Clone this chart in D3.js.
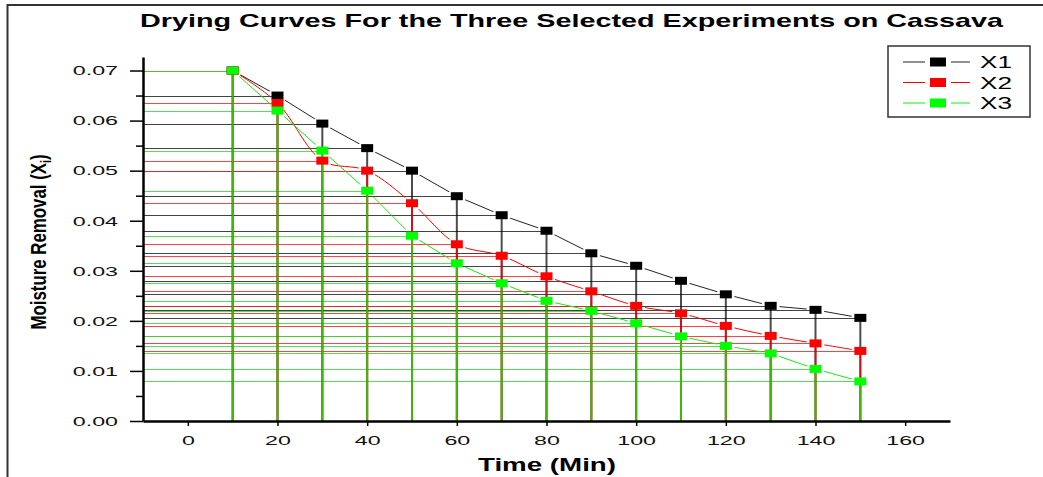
<!DOCTYPE html>
<html>
<head>
<meta charset="utf-8">
<script src="https://cdn.jsdelivr.net/npm/d3@7"></script>
<style>
  body { margin: 0; background: #fff; }
  svg { display: block; font-family: "Liberation Sans", Arial, sans-serif; }
</style>
</head>
<body>
<svg id="chart" width="1043" height="477"></svg>
<script>
// data
const times = [10, 20, 30, 40, 50, 60, 70, 80, 90, 100, 110, 120, 130, 140, 150];
const x1 = [0.0700, 0.0650, 0.0594, 0.0545, 0.0500, 0.0449, 0.0411, 0.0380, 0.0335, 0.0310, 0.0280, 0.0253, 0.0230, 0.0222, 0.0206];
const x2 = [0.0700, 0.0635, 0.0520, 0.0500, 0.0435, 0.0353, 0.0330, 0.0289, 0.0259, 0.0230, 0.0215, 0.0190, 0.0170, 0.0155, 0.0140];
const x3 = [0.0700, 0.0620, 0.0540, 0.0460, 0.0370, 0.0315, 0.0275, 0.0240, 0.0220, 0.0195, 0.0169, 0.0150, 0.0135, 0.0104, 0.0079];
const seriesNames = ["X1", "X2", "X3"];
const xTicks = [0, 20, 40, 60, 80, 100, 120, 140, 160];
const yTicks = [0, 0.01, 0.02, 0.03, 0.04, 0.05, 0.06, 0.07];
const yMinorTicks = [0.005, 0.015, 0.025, 0.035, 0.045, 0.055, 0.065];

const W = 1043, H = 477;
const sx = 1.72; // reference text is stretched horizontally
const svg = d3.select('#chart');

const x = d3.scaleLinear().domain([-10, 170]).range([143, 950]);
const y = d3.scaleLinear().domain([0, 0.0727]).range([421, 57]);

const series = [
  {name: seriesNames[0], values: x1, color: '#000', line: '#222', hline: '#222', curve: d3.curveLinear},
  {name: seriesNames[1], values: x2, color: '#f00', line: '#f00', hline: '#f22', curve: d3.curveCatmullRom},
  {name: seriesNames[2], values: x3, color: '#0f0', line: '#1e1', hline: '#3d3', curve: d3.curveLinear}
];

// outer frame
svg.append('path')
  .attr('d', `M7.5,${H} V5 H${W}`)
  .attr('fill', 'none')
  .attr('stroke', '#333')
  .attr('stroke-width', 2);

// masks to make gaps in connecting lines around symbols
const defs = svg.append('defs');
series.forEach((s, i) => {
  const m = defs.append('mask')
    .attr('id', 'gap' + i)
    .attr('maskUnits', 'userSpaceOnUse')
    .attr('x', 0).attr('y', 0).attr('width', W).attr('height', H);
  m.append('rect').attr('width', W).attr('height', H).attr('fill', '#fff');
  m.selectAll('circle')
    .data(times)
    .enter().append('circle')
    .attr('cx', d => x(d))
    .attr('cy', (d, j) => y(s.values[j]))
    .attr('r', 9)
    .attr('fill', '#000');
});

// horizontal drop lines to the y axis
series.forEach(s => {
  svg.append('g')
    .selectAll('line')
    .data(times)
    .enter().append('line')
    .attr('x1', x(-10))
    .attr('x2', d => x(d))
    .attr('y1', (d, j) => Math.round(y(s.values[j])) + 0.5)
    .attr('y2', (d, j) => Math.round(y(s.values[j])) + 0.5)
    .attr('stroke', s.hline)
    .attr('stroke-opacity', 0.85)
    .attr('stroke-width', 1);
});

// vertical drop lines to the x axis
series.forEach(s => {
  svg.append('g')
    .selectAll('line')
    .data(times)
    .enter().append('line')
    .attr('x1', d => x(d))
    .attr('x2', d => x(d))
    .attr('y1', (d, j) => y(s.values[j]))
    .attr('y2', y(0))
    .attr('stroke', s.color)
    .attr('stroke-opacity', 0.7)
    .attr('stroke-width', 2);
});

// connecting lines
series.forEach((s, i) => {
  const line = d3.line()
    .x(d => x(d))
    .y((d, j) => y(s.values[j]))
    .curve(s.curve);
  svg.append('path')
    .datum(times)
    .attr('d', line)
    .attr('fill', 'none')
    .attr('stroke', s.line)
    .attr('stroke-width', 1)
    .attr('mask', `url(#gap${i})`);
});

// symbols
series.forEach(s => {
  svg.append('g')
    .selectAll('rect')
    .data(times)
    .enter().append('rect')
    .attr('x', d => x(d) - 6)
    .attr('y', (d, j) => y(s.values[j]) - 4)
    .attr('width', 12)
    .attr('height', 8)
    .attr('fill', s.color);
});

// axes
const yAxis = svg.append('g')
  .attr('transform', `translate(${x(-10)},0)`)
  .call(d3.axisLeft(y).tickValues(yTicks).tickFormat(d3.format('.2f')).tickSize(13).tickSizeOuter(0));
svg.append('g')
  .attr('transform', `translate(${x(-10)},0)`)
  .call(d3.axisLeft(y).tickValues(yMinorTicks).tickFormat('').tickSize(7).tickSizeOuter(0))
  .call(g => g.select('.domain').remove())
  .selectAll('line').attr('stroke-width', 1.5);

const xAxis = svg.append('g')
  .attr('transform', `translate(0,${y(0)})`)
  .call(d3.axisBottom(x).tickValues(xTicks).tickSize(5).tickSizeOuter(0));

[yAxis, xAxis].forEach(g => {
  g.select('.domain').attr('stroke-width', 2.5);
  g.selectAll('.tick line').attr('stroke-width', 1.5);
  g.selectAll('text')
    .attr('font-family', '"Liberation Sans", Arial, sans-serif')
    .attr('font-size', 13.5)
    .attr('fill', '#111');
});
yAxis.selectAll('text')
  .attr('x', -25 / sx)
  .attr('transform', `scale(${sx},1)`);
xAxis.selectAll('text')
  .attr('y', 14.5)
  .attr('transform', `scale(${sx},1)`);

// titles
svg.append('text')
  .attr('x', 140)
  .attr('y', 27)
  .attr('font-size', 19)
  .attr('font-weight', 'bold')
  .attr('textLength', 863)
  .attr('lengthAdjust', 'spacingAndGlyphs')
  .text('Drying Curves For the Three Selected Experiments on Cassava');

svg.append('text')
  .attr('x', 547)
  .attr('y', 471)
  .attr('text-anchor', 'middle')
  .attr('font-size', 19)
  .attr('font-weight', 'bold')
  .attr('textLength', 138)
  .attr('lengthAdjust', 'spacingAndGlyphs')
  .text('Time (Min)');

const yLabel = svg.append('text')
  .attr('transform', 'translate(46,242) scale(1.25,1) rotate(-90)')
  .attr('text-anchor', 'middle')
  .attr('font-size', 18)
  .attr('font-weight', 'bold')
  .attr('textLength', 175)
  .attr('lengthAdjust', 'spacingAndGlyphs');
yLabel.append('tspan').text('Moisture Removal (X');
yLabel.append('tspan').attr('font-size', 11).attr('dy', 4).text('i');
yLabel.append('tspan').attr('dy', -4).text(')');

// legend
const legend = svg.append('g');
legend.append('rect')
  .attr('x', 888).attr('y', 46)
  .attr('width', 142).attr('height', 71)
  .attr('fill', '#fff')
  .attr('stroke', '#333')
  .attr('stroke-width', 1.5);
const entry = legend.selectAll('g.entry')
  .data(series)
  .enter().append('g')
  .attr('class', 'entry')
  .attr('transform', (d, i) => `translate(0,${62 + i * 20.5})`);
entry.append('line').attr('x1', 903).attr('x2', 925).attr('stroke', d => d.line).attr('stroke-width', 1);
entry.append('line').attr('x1', 951).attr('x2', 970).attr('stroke', d => d.line).attr('stroke-width', 1);
entry.append('rect')
  .attr('x', 930).attr('y', -4.5)
  .attr('width', 16).attr('height', 9)
  .attr('fill', d => d.color);
entry.append('text')
  .attr('x', 980).attr('y', 6)
  .attr('font-size', 17)
  .attr('textLength', 32)
  .attr('lengthAdjust', 'spacingAndGlyphs')
  .text(d => d.name);
</script>
</body>
</html>
